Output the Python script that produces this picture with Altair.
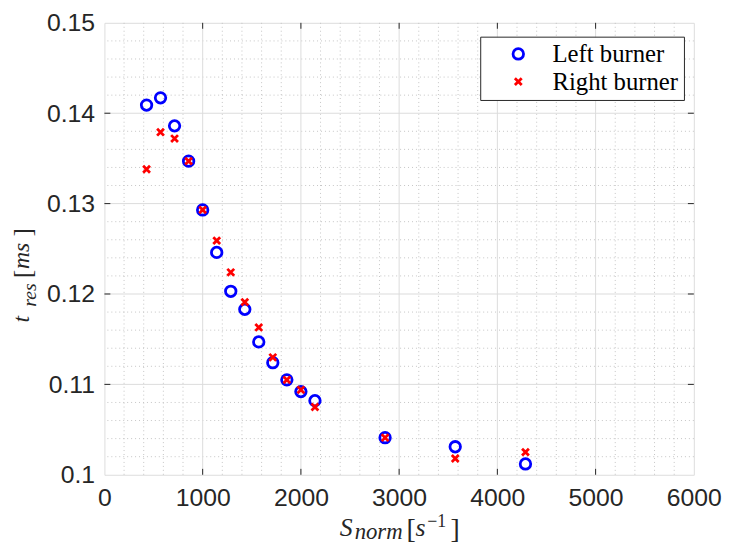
import altair as alt
import pandas as pd

# ---- data ----
s_norm = [429, 571, 714, 857, 1000, 1143, 1286, 1429, 1571, 1714, 1857, 2000, 2143, 2857, 3571, 4286]
t_left = [0.1409, 0.1417, 0.1386, 0.1347, 0.1293, 0.1246, 0.1203, 0.1183, 0.1147, 0.1124,
          0.1105, 0.1092, 0.1082, 0.1041, 0.1031, 0.1012]
t_right = [0.1338, 0.1379, 0.1372, 0.1347, 0.1293, 0.1259, 0.1224, 0.1191, 0.1163, 0.1130,
           0.1105, 0.1094, 0.1075, 0.1041, 0.1018, 0.1025]
series_names = ["Left burner", "Right burner"]
series_colors = ["#0000ff", "#ff0000"]
x_ticks = [0, 1000, 2000, 3000, 4000, 5000, 6000]
y_ticks = [0.10, 0.11, 0.12, 0.13, 0.14, 0.15]
x_minor = [v for v in range(0, 6001, 200) if v % 1000 != 0]
y_minor = [round(0.1 + 0.002 * i, 3) for i in range(26) if i % 5 != 0]

W, H = 596, 457
AX = "#262626"

df = pd.DataFrame({
    "S": s_norm + s_norm,
    "t": t_left + t_right,
    "burner": [series_names[0]] * len(s_norm) + [series_names[1]] * len(s_norm),
})
xs = alt.Scale(domain=[0, 6000], nice=False, zero=False)
ys = alt.Scale(domain=[0.1, 0.15], nice=False, zero=False)

x_axis = alt.Axis(values=x_ticks, format="d", labelFont="Liberation Sans", labelFontSize=25,
                  labelColor=AX, labelPadding=11, ticks=False, domain=False, grid=False,
                  labelFlush=False, labelOverlap=False, title=None)
y_axis = alt.Axis(values=y_ticks, format=".2~f", labelFont="Liberation Sans", labelFontSize=25,
                  labelColor=AX, labelPadding=10, ticks=False, domain=False, grid=False,
                  labelFlush=False, labelOverlap=False, title=None)


def X(field):
    return alt.X(field, scale=xs, axis=x_axis, title=None)


def Y(field):
    return alt.Y(field, scale=ys, axis=y_axis, title=None)


xmaj_in = pd.DataFrame({"v": x_ticks[1:-1]})
ymaj_in = pd.DataFrame({"v": y_ticks[1:-1]})
xmin_df = pd.DataFrame({"v": x_minor})
ymin_df = pd.DataFrame({"v": y_minor})

minor_x = alt.Chart(xmin_df).mark_rule(color="#c4c4c4", strokeWidth=1, strokeDash=[1, 3]).encode(x=X("v:Q"))
minor_y = alt.Chart(ymin_df).mark_rule(color="#c4c4c4", strokeWidth=1, strokeDash=[1, 3]).encode(y=Y("v:Q"))
major_x = alt.Chart(xmaj_in).mark_rule(color="#dcdcdc", strokeWidth=1).encode(x=X("v:Q"))
major_y = alt.Chart(ymaj_in).mark_rule(color="#dcdcdc", strokeWidth=1).encode(y=Y("v:Q"))

TL = 6
tick_b = alt.Chart(xmaj_in).mark_rule(color=AX, strokeWidth=1).encode(
    x=X("v:Q"), y=alt.value(H), y2=alt.value(H - TL))
tick_t = alt.Chart(xmaj_in).mark_rule(color=AX, strokeWidth=1).encode(
    x=X("v:Q"), y=alt.value(0), y2=alt.value(TL))
tick_l = alt.Chart(ymaj_in).mark_rule(color=AX, strokeWidth=1).encode(
    y=Y("v:Q"), x=alt.value(0), x2=alt.value(TL))
tick_r = alt.Chart(ymaj_in).mark_rule(color=AX, strokeWidth=1).encode(
    y=Y("v:Q"), x=alt.value(W), x2=alt.value(W - TL))

leg = alt.Legend(
    title=None, orient="none", legendX=380, legendY=14, direction="vertical",
    padding=5, rowPadding=2, symbolOffset=21, labelOffset=22,
    labelFont="Liberation Serif", labelFontSize=25, labelColor="#000000",
    strokeColor=AX, fillColor="white", symbolSize=113, symbolStrokeWidth=2.8,
    cornerRadius=0,
)

points = alt.Chart(df).mark_point(filled=False, size=113, strokeWidth=2.8, opacity=1).encode(
    x=X("S:Q"),
    y=Y("t:Q"),
    color=alt.Color("burner:N", scale=alt.Scale(domain=series_names, range=series_colors), legend=leg),
    shape=alt.Shape("burner:N", scale=alt.Scale(
        domain=series_names, range=["circle", "M-0.65,-0.65L0.65,0.65M0.65,-0.65L-0.65,0.65"]), legend=leg),
)

one = pd.DataFrame({"k": [0]})


def piece(txt, x, y, size, italic=True, angle=0):
    kw = dict(text=txt, font="Liberation Serif", fontSize=size,
              fontStyle="italic" if italic else "normal", align="left",
              baseline="alphabetic", color=AX)
    if angle:
        kw["angle"] = angle
    return alt.Chart(one).mark_text(**kw).encode(x=alt.value(x), y=alt.value(y))


titles = [
    # x title: S_norm [s^-1]
    piece("S", 238, 518.5, 26),
    piece("norm", 253, 521.5, 23),
    piece("[", 305.5, 520.8, 28, italic=False),
    piece("s", 314.5, 518.5, 26),
    piece("\u22121", 326.5, 510, 18, italic=False),
    piece("]", 350, 520.8, 28, italic=False),
    # y title: t_res [ms] (rotated, reading upwards)
    piece("t", -76.5, 303, 24, angle=270),
    piece("res", -69.5, 287, 20, angle=270),
    piece("[", -74.5, 258, 25, italic=False, angle=270),
    piece("ms", -76.5, 249, 24, angle=270),
    piece("]", -74.5, 216, 25, italic=False, angle=270),
]

chart = alt.layer(
    minor_x, minor_y, major_x, major_y, points, tick_b, tick_t, tick_l, tick_r, *titles
).properties(
    width=W, height=H,
    padding={"left": 97.5, "top": 12, "right": 30.5, "bottom": 67},
    autosize=alt.AutoSizeParams(type="none"),
).configure_view(stroke=AX, strokeWidth=1).configure(background="white")

chart.save("out.html", embed_options={"renderer": "svg", "actions": False})
